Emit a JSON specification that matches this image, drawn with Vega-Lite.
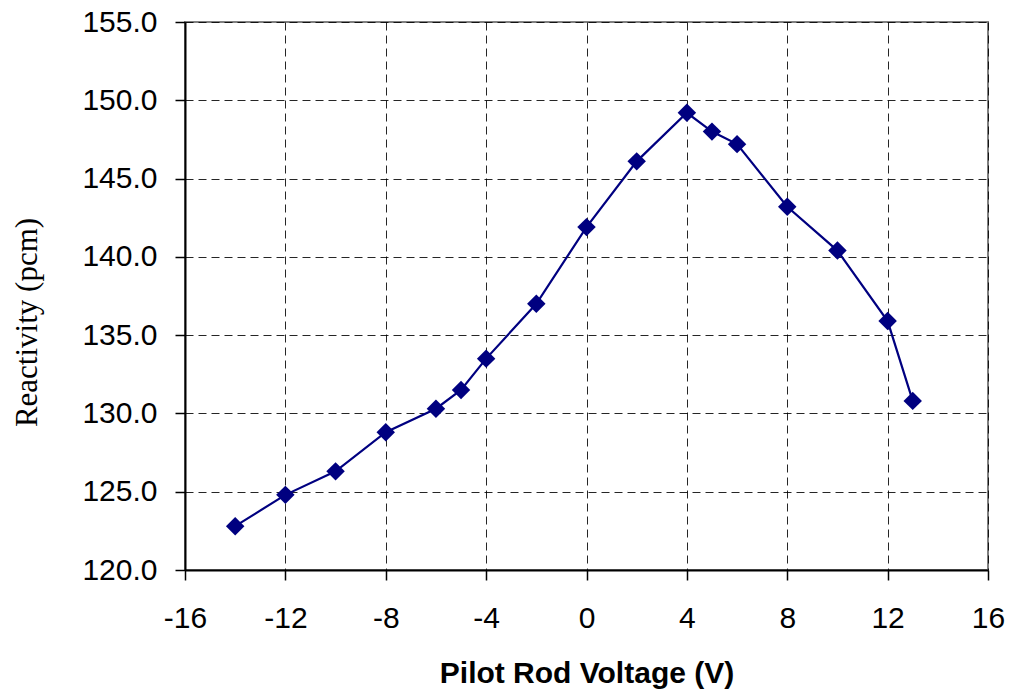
{
  "$schema": "https://vega.github.io/schema/vega-lite/v6.json",
  "width": 803,
  "height": 548,
  "autosize": {"type": "none"},
  "padding": {"left": 185, "top": 22, "right": 22, "bottom": 125},
  "background": "white",
  "config": {
    "view": {"stroke": "#808080", "strokeWidth": 2},
    "axis": {
      "labelFont": "Liberation Sans",
      "labelFontSize": 30,
      "labelColor": "black",
      "domainColor": "black",
      "domainWidth": 2,
      "tickColor": "black",
      "tickSize": 10,
      "tickWidth": 1.5,
      "gridColor": "black",
      "gridDash": [8, 5],
      "gridWidth": 1,
      "gridOpacity": 0.85
    }
  },
  "data": {
    "values": [
      {"v": -14, "r": 122.8},
      {"v": -12, "r": 124.8},
      {"v": -10, "r": 126.3},
      {"v": -8, "r": 128.8},
      {"v": -6, "r": 130.3},
      {"v": -5, "r": 131.5},
      {"v": -4, "r": 133.5},
      {"v": -2, "r": 137.0},
      {"v": 0, "r": 141.9},
      {"v": 2, "r": 146.1},
      {"v": 4, "r": 149.2},
      {"v": 5, "r": 148.0},
      {"v": 6, "r": 147.2},
      {"v": 8, "r": 143.2},
      {"v": 10, "r": 140.4},
      {"v": 12, "r": 135.9},
      {"v": 13, "r": 130.8}
    ]
  },
  "encoding": {
    "x": {
      "field": "v",
      "type": "quantitative",
      "scale": {"domain": [-16, 16], "nice": false, "zero": false},
      "axis": {
        "values": [-16, -12, -8, -4, 0, 4, 8, 12, 16],
        "labelExpr": "(datum.value < 0 ? '-' : '') + abs(datum.value)",
        "title": "Pilot Rod Voltage (V)",
        "titleFont": "Liberation Sans",
        "titleFontSize": 30,
        "titleFontWeight": "bold",
        "titleColor": "black",
        "titlePadding": 25,
        "labelPadding": 23,
        "labelFlush": false
      }
    },
    "y": {
      "field": "r",
      "type": "quantitative",
      "scale": {"domain": [120, 155], "nice": false, "zero": false},
      "axis": {
        "values": [120, 125, 130, 135, 140, 145, 150, 155],
        "format": ".1f",
        "title": "Reactivity (pcm)",
        "titleFont": "Liberation Serif",
        "titleFontSize": 31,
        "titleFontWeight": "normal",
        "titleColor": "black",
        "titlePadding": 38,
        "titleY": 300,
        "labelPadding": 18,
        "labelFlush": false
      }
    }
  },
  "layer": [
    {"mark": {"type": "line", "color": "#000080", "strokeWidth": 2.2}},
    {"mark": {"type": "point", "shape": "diamond", "filled": true, "opacity": 1, "color": "#000080", "size": 340}}
  ]
}
